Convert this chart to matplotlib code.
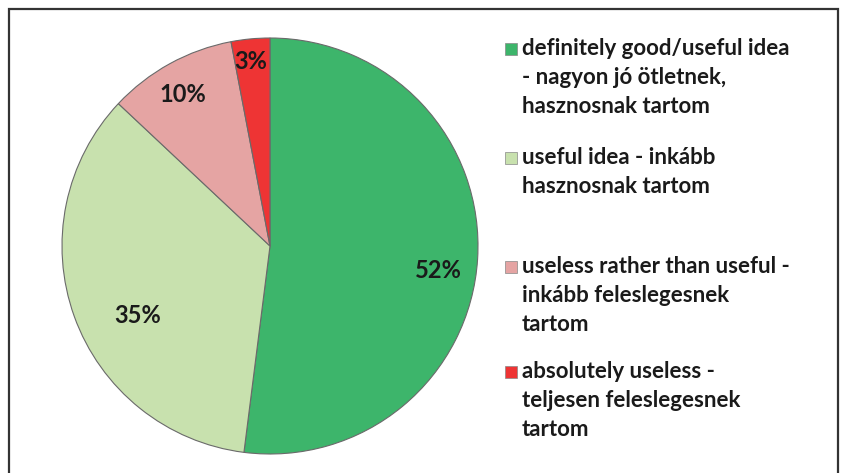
import matplotlib
matplotlib.use("Agg")
import matplotlib.pyplot as plt
from matplotlib.patches import Rectangle
import numpy as np

categories = [
    "definitely good/useful idea\n- nagyon jó ötletnek,\nhasznosnak tartom",
    "useful idea - inkább\nhasznosnak tartom",
    "useless rather than useful -\ninkább feleslegesnek\ntartom",
    "absolutely useless -\nteljesen feleslegesnek\ntartom",
]
values = [52, 35, 10, 3]
pct_labels = ["52%", "35%", "10%", "3%"]
colors = ["#3DB56B", "#C8E1AE", "#E5A4A3", "#EE3434"]

plt.rcParams['font.family'] = ['Lato', 'DejaVu Sans']

W, H = 842, 473
fig = plt.figure(figsize=(W / 100, H / 100), dpi=100)

# pie axes: center (270, 246) px, radius 208 px
cx, cy, R = 270, 246, 208
ax = fig.add_axes([(cx - R) / W, (H - cy - R) / H, 2 * R / W, 2 * R / H])
wedges, _ = ax.pie(values, colors=colors, startangle=90, counterclock=False,
                   wedgeprops=dict(edgecolor="#6a6a6a", linewidth=0.8))
ax.set_xlim(-1, 1)
ax.set_ylim(-1, 1)
ax.set_aspect('equal')
for w in wedges:
    w.set_clip_on(False)

dists = [0.82, 0.72, 0.84, 0.89]
angle_shift = [-4.5, 8, 1, 0.5]
for w, lab, d, s in zip(wedges, pct_labels, dists, angle_shift):
    mid = np.deg2rad((w.theta1 + w.theta2) / 2 + s)
    ax.text(d * np.cos(mid), d * np.sin(mid), lab, ha='center', va='center',
            fontsize=17, fontweight='bold', color='#1a1a1a')

# legend drawn manually
lx_box, lx_text = 505, 522
y0, pitch = 49, 109
ys = [y0, y0 + pitch, y0 + 2 * pitch, y0 + 2 * pitch + 105]
for lab, col, y in zip(categories, colors, ys):
    fig.patches.append(Rectangle((lx_box / W, 1 - (y + 6) / H), 12 / W, 12 / H,
                                 transform=fig.transFigure, facecolor=col,
                                 edgecolor='#888888', linewidth=0.5))
    fig.text(lx_text / W, 1 - (y - 11) / H, lab, ha='left', va='top',
             fontsize=16, fontweight='bold', color='#1a1a1a', linespacing=1.46)

# frame
fig.patches.append(Rectangle((9 / W, -0.05), (838 - 9) / W, 1.05 - 9 / H,
                             transform=fig.transFigure, facecolor='none',
                             edgecolor='#333333', linewidth=1.6))

fig.savefig("out.png", dpi=100)
